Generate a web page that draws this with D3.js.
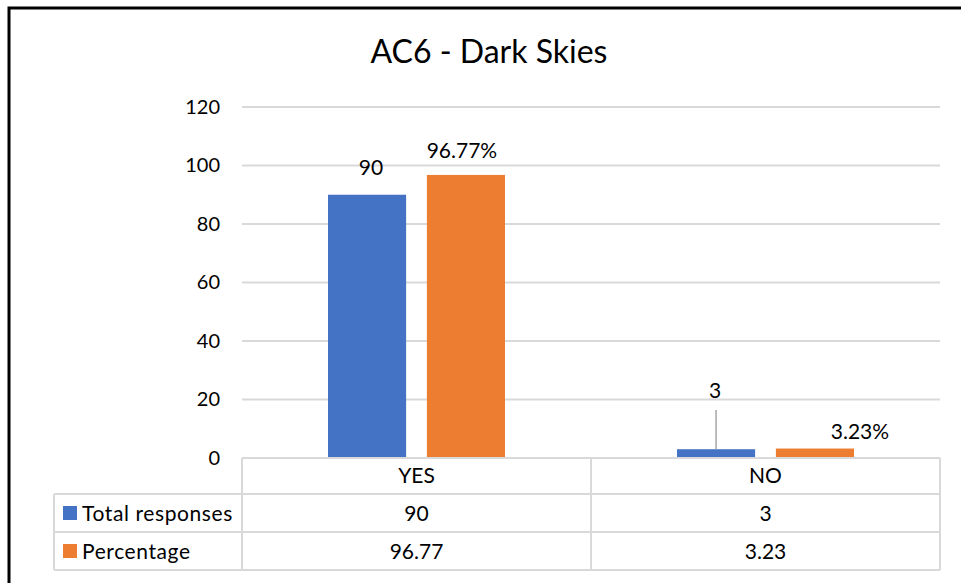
<!DOCTYPE html>
<html>
<head>
<meta charset="utf-8">
<script src="https://cdn.jsdelivr.net/npm/d3@7"></script>
<style>
  html, body { margin: 0; padding: 0; background: #fff; }
  svg { display: block; font-family: Lato, "Open Sans", sans-serif; }
</style>
</head>
<body>
<svg id="chart" width="961" height="583"></svg>
<script>
const categories = ["YES", "NO"];
const seriesNames = ["Total responses", "Percentage"];
const totalResponses = [90, 3];
const percentage = [96.77, 3.23];
const yTicks = [0, 20, 40, 60, 80, 100, 120];
const colors = ["#4472C4", "#ED7D31"];

const series = [totalResponses, percentage];
const svg = d3.select("#chart");

// outer chart frame
svg.append("rect")
  .attr("x", 9).attr("y", 8)
  .attr("width", 960).attr("height", 600)
  .attr("fill", "#fff").attr("stroke", "#000").attr("stroke-width", 3);

const plotLeft = 242, plotRight = 940, plotTop = 107, plotBottom = 458;

const y = d3.scaleLinear().domain([0, 120]).range([plotBottom, plotTop]);
const x0 = d3.scaleBand().domain(categories).range([plotLeft, plotRight]).paddingInner(0).paddingOuter(0);
const x1 = d3.scaleBand().domain(d3.range(series.length)).range([86, 263]).paddingInner(0.21);

// title
svg.append("text")
  .attr("x", 489).attr("y", 63)
  .attr("text-anchor", "middle")
  .attr("font-size", 32)
  .attr("fill", "#000")
  .text("AC6 - Dark Skies");

// gridlines
svg.append("g")
  .selectAll("line")
  .data(yTicks.filter(t => t > 0))
  .join("line")
  .attr("x1", plotLeft).attr("x2", plotRight)
  .attr("y1", d => y(d)).attr("y2", d => y(d))
  .attr("stroke", "#d9d9d9").attr("stroke-width", 2);

// y axis labels
const yAxis = d3.axisLeft(y).tickValues(yTicks).tickSize(0).tickPadding(22);
const yg = svg.append("g").attr("transform", `translate(${plotLeft},0)`).call(yAxis);
yg.select(".domain").remove();
yg.selectAll("text").attr("font-size", 20).attr("fill", "#000").attr("font-family", "Lato, 'Open Sans', sans-serif");

// bars
categories.forEach((cat, ci) => {
  series.forEach((vals, si) => {
    svg.append("rect")
      .attr("x", x0(cat) + x1(si))
      .attr("y", y(vals[ci]))
      .attr("width", x1.bandwidth())
      .attr("height", y(0) - y(vals[ci]))
      .attr("fill", colors[si]);
  });
});

// data labels
const fmtLabel = (si, v) => si === 1 ? d3.format(".2f")(v) + "%" : String(v);
const labelPos = [
  [{dx: 4, y: 175}, {dx: -4, y: 158}],
  [{dx: -1, y: 398}, {dx: 45, y: 439}]
];
categories.forEach((cat, ci) => {
  series.forEach((vals, si) => {
    const cx = x0(cat) + x1(si) + x1.bandwidth() / 2;
    const p = labelPos[ci][si];
    svg.append("text")
      .attr("x", cx + p.dx).attr("y", p.y)
      .attr("text-anchor", "middle")
      .attr("font-size", 21).attr("fill", "#000")
      .text(fmtLabel(si, vals[ci]));
  });
});
// leader line for the small blue label
{
  const cx = x0("NO") + x1(0) + x1.bandwidth() / 2;
  svg.append("line")
    .attr("x1", cx).attr("x2", cx)
    .attr("y1", 410).attr("y2", y(totalResponses[1]))
    .attr("stroke", "#a6a6a6").attr("stroke-width", 1.5);
}

// data table
const rowH = [plotBottom, 494, 532, 570];
const tableLeft = 54;
const tg = svg.append("g").attr("stroke", "#d9d9d9").attr("stroke-width", 2).attr("fill", "none");
// horizontal lines
tg.append("line").attr("x1", plotLeft).attr("x2", plotRight).attr("y1", rowH[0]).attr("y2", rowH[0]);
[1, 2, 3].forEach(i => {
  tg.append("line").attr("x1", tableLeft).attr("x2", plotRight).attr("y1", rowH[i]).attr("y2", rowH[i]);
});
// vertical lines
tg.append("line").attr("x1", tableLeft).attr("x2", tableLeft).attr("y1", rowH[1]).attr("y2", rowH[3]);
[plotLeft, x0("NO"), plotRight].forEach(xv => {
  tg.append("line").attr("x1", xv).attr("x2", xv).attr("y1", rowH[0]).attr("y2", rowH[3]);
});

// category header row
categories.forEach(cat => {
  svg.append("text")
    .attr("x", x0(cat) + x0.bandwidth() / 2).attr("y", (rowH[0] + rowH[1]) / 2 + 7)
    .attr("text-anchor", "middle").attr("font-size", 21).attr("fill", "#000")
    .text(cat);
});

// value rows with legend keys
series.forEach((vals, si) => {
  const top = rowH[si + 1], bot = rowH[si + 2];
  const mid = (top + bot) / 2;
  svg.append("rect")
    .attr("x", 63).attr("y", mid - 7)
    .attr("width", 14).attr("height", 14)
    .attr("fill", colors[si]);
  svg.append("text")
    .attr("x", 82).attr("y", mid + 8)
    .attr("font-size", 21).attr("letter-spacing", 0.6).attr("fill", "#000")
    .text(seriesNames[si]);
  categories.forEach((cat, ci) => {
    svg.append("text")
      .attr("x", x0(cat) + x0.bandwidth() / 2).attr("y", mid + 8)
      .attr("text-anchor", "middle").attr("font-size", 21).attr("fill", "#000")
      .text(si === 1 ? d3.format(".2f")(vals[ci]) : String(vals[ci]));
  });
});
</script>
</body>
</html>
